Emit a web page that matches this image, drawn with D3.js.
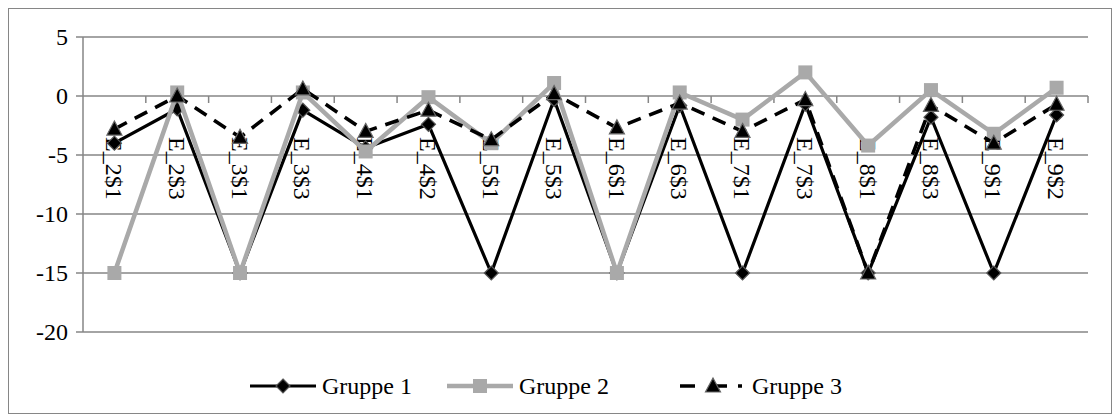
<!DOCTYPE html>
<html lang="de">
<head>
<meta charset="UTF-8">
<title>Gruppe 1-3</title>
<script src="https://d3js.org/d3.v7.min.js"></script>
<style>
  body { margin: 0; background: #fff; }
</style>
</head>
<body>
<svg id="chart" width="1116" height="417"></svg>
<script>
const categories = ["E_2$1", "E_2$3", "E_3$1", "E_3$3", "E_4$1", "E_4$2", "E_5$1", "E_5$3",
                    "E_6$1", "E_6$3", "E_7$1", "E_7$3", "E_8$1", "E_8$3", "E_9$1", "E_9$2"];
const gruppe1 = [-4.0, -1.1, -15, -1.2, -4.4, -2.4, -15, -0.3, -15, -0.8, -15, -0.7, -15, -1.8, -15, -1.6];
const gruppe2 = [-15, 0.3, -15, 0.3, -4.7, -0.1, -4.0, 1.1, -15, 0.3, -2.0, 2.0, -4.2, 0.5, -3.2, 0.7];
const gruppe3 = [-2.8, 0.0, -3.5, 0.6, -3.0, -1.2, -3.7, 0.2, -2.7, -0.6, -3.0, -0.3, -15, -0.8, -4.0, -0.7];
const yTicks = [5, 0, -5, -10, -15, -20];
const seriesNames = ["Gruppe 1", "Gruppe 2", "Gruppe 3"];

const gridColor = "#868686";
const grey = "#a9a9a9";
const fontFamily = "Tinos, 'Times New Roman', Times, 'Liberation Serif', 'Noto Serif', 'DejaVu Serif', FreeSerif, 'Nimbus Roman', serif";

const svg = d3.select("#chart");
const font = 24;

// border
svg.append("rect")
    .attr("x", 8.5).attr("y", 8.5)
    .attr("width", 1103).attr("height", 405)
    .attr("fill", "none").attr("stroke", gridColor).attr("stroke-width", 1);

const x = d3.scaleBand().domain(categories).range([83, 1088]);
const y = d3.scaleLinear().domain([-20, 5]).range([332, 37]);
const cx = c => x(c) + x.bandwidth() / 2;

// gridlines + y labels
svg.append("g").selectAll("line")
    .data(yTicks)
    .join("line")
    .attr("x1", 76).attr("x2", 1088)
    .attr("y1", d => y(d)).attr("y2", d => y(d))
    .attr("stroke", gridColor).attr("stroke-width", 1.5);

svg.append("g").selectAll("text")
    .data(yTicks)
    .join("text")
    .attr("x", 68).attr("y", d => y(d))
    .attr("dy", "0.35em")
    .attr("text-anchor", "end")
    .style("font-family", fontFamily)
    .style("font-size", font + "px")
    .text(d => d);

// y axis line
svg.append("line")
    .attr("x1", 83).attr("x2", 83)
    .attr("y1", y(5)).attr("y2", y(-20))
    .attr("stroke", gridColor).attr("stroke-width", 1.5);

// category tick marks on the zero line
const bounds = categories.map(c => x(c)).concat([x.range()[1]]);
svg.append("g").selectAll("line")
    .data(bounds.slice(1))
    .join("line")
    .attr("x1", d => d).attr("x2", d => d)
    .attr("y1", y(0)).attr("y2", y(0) + 7)
    .attr("stroke", gridColor).attr("stroke-width", 1.5);

// category labels (rotated)
svg.append("g").selectAll("text")
    .data(categories)
    .join("text")
    .attr("transform", d => `translate(${cx(d)},137) rotate(90)`)
    .attr("dy", "0.35em")
    .style("font-family", fontFamily)
    .style("font-size", font + "px")
    .text(d => d);

// markers
function diamond(g, px, py) {
    g.append("path")
        .attr("d", `M${px},${py - 7}L${px + 7},${py}L${px},${py + 7}L${px - 7},${py}Z`)
        .attr("fill", "#000").attr("stroke", "#555").attr("stroke-width", 1.2);
}
function square(g, px, py) {
    g.append("rect")
        .attr("x", px - 7).attr("y", py - 7).attr("width", 14).attr("height", 14)
        .attr("fill", grey);
}
function triangle(g, px, py) {
    g.append("path")
        .attr("d", `M${px},${py - 8}L${px + 7.5},${py + 6}L${px - 7.5},${py + 6}Z`)
        .attr("fill", "#000").attr("stroke", "#666").attr("stroke-width", 1.2);
}

const series = [
    { name: seriesNames[0], values: gruppe1, color: "#000", width: 3.2, dash: null, marker: diamond },
    { name: seriesNames[1], values: gruppe2, color: grey, width: 4.5, dash: null, marker: square },
    { name: seriesNames[2], values: gruppe3, color: "#000", width: 3.6, dash: "14,9", marker: triangle }
];

const line = d3.line()
    .x((d, i) => cx(categories[i]))
    .y(d => y(d));

series.forEach(s => {
    const g = svg.append("g");
    g.append("path")
        .datum(s.values)
        .attr("d", line)
        .attr("fill", "none")
        .attr("stroke", s.color)
        .attr("stroke-width", s.width)
        .attr("stroke-dasharray", s.dash)
        .attr("stroke-linejoin", "round");
    s.values.forEach((v, i) => s.marker(g, cx(categories[i]), y(v)));
});

// legend
const legendY = 386;
const legendX = [250, 447, 680];
series.forEach((s, i) => {
    const g = svg.append("g");
    const x0 = legendX[i];
    g.append("line")
        .attr("x1", x0).attr("x2", x0 + 66)
        .attr("y1", legendY).attr("y2", legendY)
        .attr("stroke", s.color)
        .attr("stroke-width", s.width)
        .attr("stroke-dasharray", s.dash ? "15,17,15,11,4,20" : null);
    s.marker(g, x0 + 33, legendY);
    g.append("text")
        .attr("x", x0 + 72).attr("y", legendY)
        .attr("dy", "0.35em")
        .style("font-family", fontFamily)
        .style("font-size", font + "px")
        .text(s.name);
});
</script>
</body>
</html>
